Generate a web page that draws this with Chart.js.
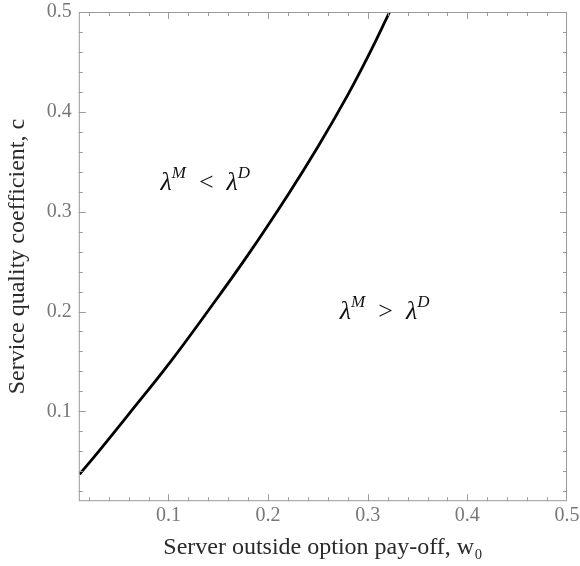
<!DOCTYPE html>
<html>
<head>
<meta charset="utf-8">
<script src="https://cdn.jsdelivr.net/npm/chart.js@4/dist/chart.umd.min.js"></script>
<style>
  html, body { margin: 0; padding: 0; background: #fff; }
  #wrap { width: 580px; height: 566px; }
</style>
</head>
<body>
<div id="wrap"><canvas id="chart"></canvas></div>
<script>
// Данные
const w0Values = [0.0107, 0.03, 0.06, 0.10, 0.14, 0.18, 0.22, 0.25, 0.28, 0.30, 0.322];
const cValues = [0.037, 0.060, 0.097, 0.147, 0.201, 0.257, 0.317, 0.365, 0.417, 0.455, 0.5];
const xTicks = [0.1, 0.2, 0.3, 0.4, 0.5];
const yTicks = [0.1, 0.2, 0.3, 0.4, 0.5];
const regionLabels = [
  { x: 0.092, y: 0.322, rel: '<' },
  { x: 0.272, y: 0.192, rel: '>' }
];

const serif = '"Liberation Serif", "DejaVu Serif", serif';
const frameColor = '#9a9a9a';

// Рамка и засечки внутрь, как в Mathematica
const framePlugin = {
  id: 'frame',
  afterDatasetsDraw(chart) {
    const { ctx, chartArea: a, scales } = chart;
    ctx.save();
    ctx.strokeStyle = frameColor;
    ctx.lineWidth = 1;
    ctx.strokeRect(a.left + 0.5, a.top + 0.5, a.right - a.left - 1, a.bottom - a.top - 1);
    const step = 0.02;
    for (let i = 1; i <= 25; i++) {
      const v = +(i * step).toFixed(2);
      const major = Math.abs(v * 10 - Math.round(v * 10)) < 1e-6;
      const len = major ? 7 : 4;
      const px = Math.round(scales.x.getPixelForValue(v)) + 0.5;
      if (px > a.left + 1 && px < a.right - 1) {
        ctx.beginPath();
        ctx.moveTo(px, a.bottom); ctx.lineTo(px, a.bottom - len);
        ctx.moveTo(px, a.top); ctx.lineTo(px, a.top + len);
        ctx.stroke();
      }
      const py = Math.round(scales.y.getPixelForValue(v)) + 0.5;
      if (py > a.top + 1 && py < a.bottom - 1) {
        ctx.beginPath();
        ctx.moveTo(a.left, py); ctx.lineTo(a.left + len, py);
        ctx.moveTo(a.right, py); ctx.lineTo(a.right - len, py);
        ctx.stroke();
      }
    }
    ctx.restore();
  }
};

// Подписи областей λ^M < λ^D
const labelsPlugin = {
  id: 'regionLabels',
  afterDraw(chart) {
    const { ctx, scales } = chart;
    ctx.save();
    ctx.fillStyle = '#111';
    ctx.textBaseline = 'alphabetic';
    ctx.textAlign = 'left';
    regionLabels.forEach(l => {
      let x = scales.x.getPixelForValue(l.x);
      const y = scales.y.getPixelForValue(l.y);
      const parts = [
        { t: 'λ', f: 'italic 26px ' + serif, dy: 0 },
        { t: 'M', f: 'italic 17px ' + serif, dy: -12 },
        { t: '  ' + l.rel + '  ', f: '26px ' + serif, dy: 0 },
        { t: 'λ', f: 'italic 26px ' + serif, dy: 0 },
        { t: 'D', f: 'italic 17px ' + serif, dy: -12 }
      ];
      parts.forEach(p => {
        ctx.font = p.f;
        ctx.fillText(p.t, x, y + p.dy);
        x += ctx.measureText(p.t).width;
      });
    });
    ctx.restore();
  }
};

new Chart(document.getElementById('chart'), {
  type: 'line',
  data: {
    datasets: [{
      data: w0Values.map((x, i) => ({ x: x, y: cValues[i] })),
      borderColor: '#000',
      borderWidth: 2.8,
      pointRadius: 0,
      tension: 0.4,
      fill: false
    }]
  },
  options: {
    responsive: true,
    maintainAspectRatio: false,
    animation: false,
    layout: { padding: { top: 0, right: 0, left: 3, bottom: 4 } },
    plugins: { legend: { display: false }, tooltip: { enabled: false } },
    scales: {
      x: {
        type: 'linear',
        min: 0.01,
        max: 0.5,
        afterBuildTicks: s => { s.ticks = xTicks.map(v => ({ value: v })); },
        afterFit: s => { s.paddingRight = 13; s.paddingLeft = 0; },
        grid: { display: false, drawTicks: false },
        border: { display: false },
        ticks: {
          color: '#777',
          font: { family: serif, size: 20 },
          padding: 3,
          maxRotation: 0,
          callback: v => v.toFixed(1)
        },
        title: {
          display: true,
          text: 'Server outside option pay-off, w₀',
          color: '#2a2a2a',
          font: { family: serif, size: 24 },
          padding: { top: 2, bottom: 0 }
        }
      },
      y: {
        type: 'linear',
        min: 0.01,
        max: 0.5,
        afterBuildTicks: s => { s.ticks = yTicks.map(v => ({ value: v })); },
        afterFit: s => { s.paddingTop = 12; s.paddingBottom = 0; },
        grid: { display: false, drawTicks: false },
        border: { display: false },
        ticks: {
          color: '#777',
          font: { family: serif, size: 20 },
          padding: 7,
          callback: v => v.toFixed(1)
        },
        title: {
          display: true,
          text: 'Service quality coefficient, c',
          color: '#2a2a2a',
          font: { family: serif, size: 24 },
          padding: { top: 0, bottom: 8 }
        }
      }
    }
  },
  plugins: [framePlugin, labelsPlugin]
});
</script>
</body>
</html>
